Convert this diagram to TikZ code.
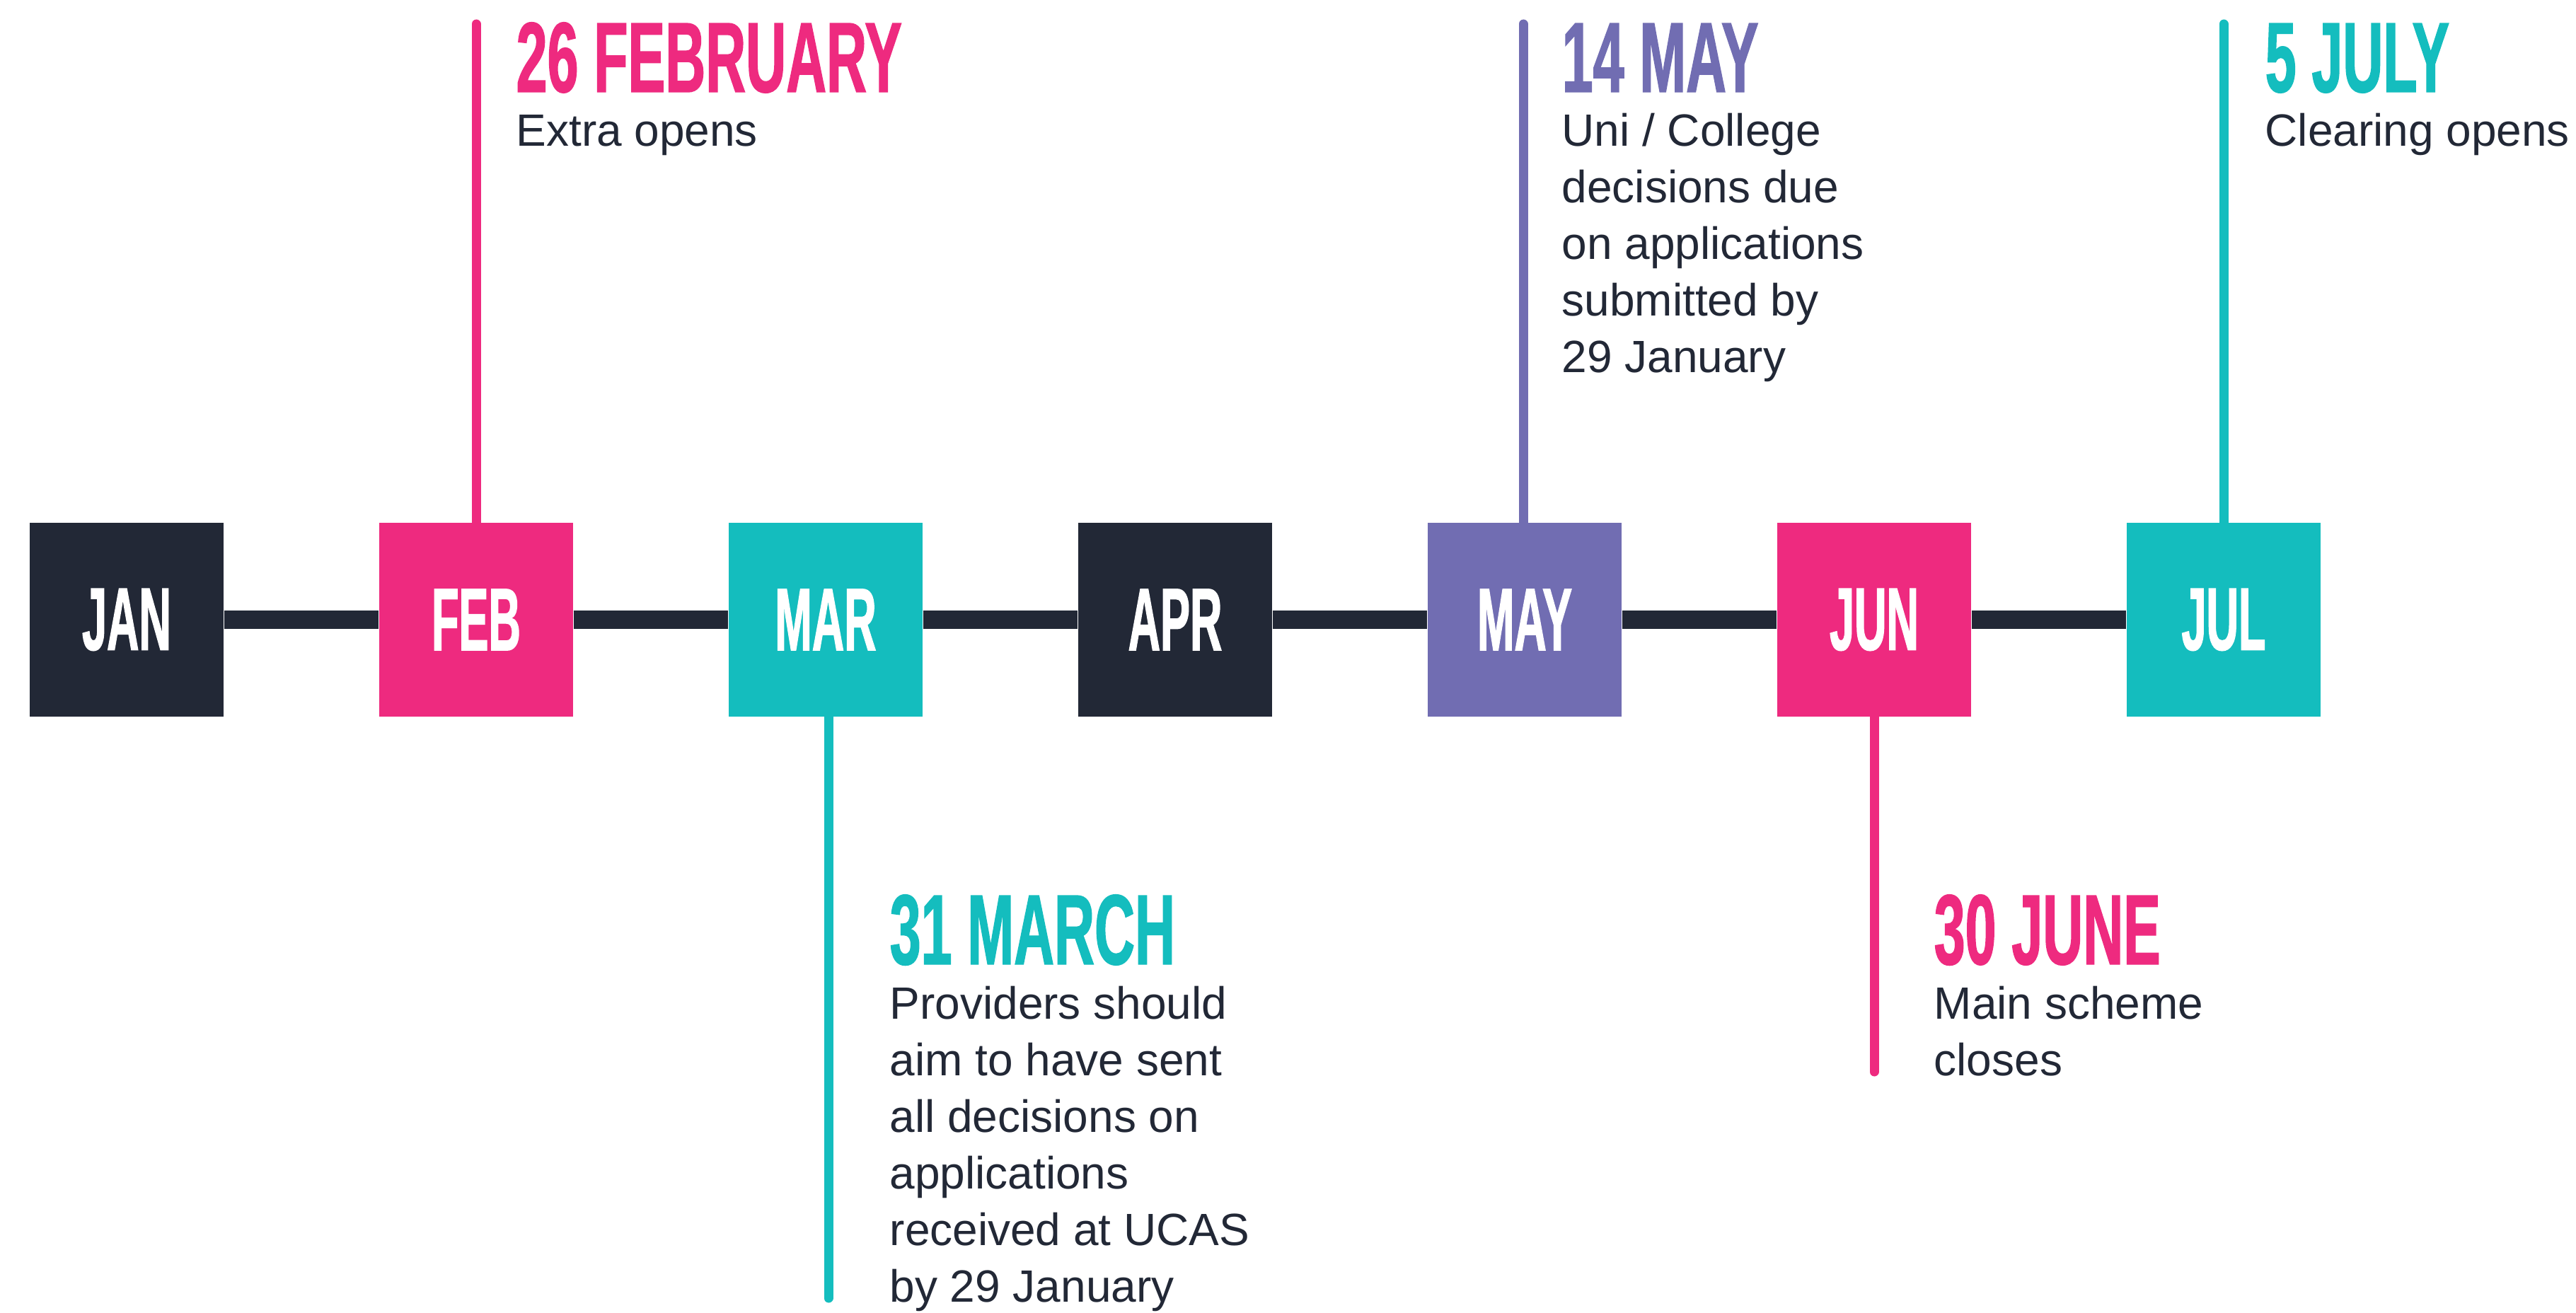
\documentclass[tikz,border=0pt]{standalone}
\usepackage{fontspec}
\setmainfont{Liberation Sans}
\newfontfamily\headfont[FakeStretch=0.56,FakeBold=1.0]{Liberation Sans}
\newfontfamily\monthfont[FakeStretch=0.50,FakeBold=1.0]{Liberation Sans}
\definecolor{ucasnavy}{HTML}{222836}
\definecolor{ucaspink}{HTML}{EE2A7F}
\definecolor{ucasteal}{HTML}{14BDBE}
\definecolor{ucaspurple}{HTML}{716DB2}

\begin{document}
\begin{tikzpicture}[
  line cap=round,
  month/.style={rectangle, minimum size=2.74cm, inner sep=0pt, text=white,
    font=\monthfont\bfseries\fontsize{35.8pt}{36pt}\selectfont},
  timeline/.style={draw=ucasnavy, line width=0.26cm, line cap=butt},
  stem/.style={line width=0.13cm, line cap=round},
  head/.style={anchor=base west, inner sep=0pt,
    font=\headfont\bfseries\fontsize{40.1pt}{40pt}\selectfont},
  body/.style={anchor=base west, inner sep=0pt, text=ucasnavy,
    font=\fontsize{18.2pt}{22.8pt}\selectfont}
]
\useasboundingbox[fill=white] (0,0) rectangle (36.41,18.55);

% month boxes
\node[month, fill=ucasnavy] (jan) at (1.79,9.79) {JAN};
\node[month, fill=ucaspink] (feb) at (6.73,9.79) {FEB};
\node[month, fill=ucasteal] (mar) at (11.67,9.79) {MAR};
\node[month, fill=ucasnavy] (apr) at (16.61,9.79) {APR};
\node[month, fill=ucaspurple] (may) at (21.55,9.79) {MAY};
\node[month, fill=ucaspink] (jun) at (26.49,9.79) {JUN};
\node[month, fill=ucasteal] (jul) at (31.43,9.79) {JUL};

\draw[timeline] (jan) -- (feb);
\draw[timeline] (feb) -- (mar);
\draw[timeline] (mar) -- (apr);
\draw[timeline] (apr) -- (may);
\draw[timeline] (may) -- (jun);
\draw[timeline] (jun) -- (jul);

% stems
\coordinate (feb-top) at (6.73,18.21);
\coordinate (mar-end) at (11.71,0.20);
\coordinate (may-top) at (21.53,18.21);
\coordinate (jun-end) at (26.49,3.40);
\coordinate (jul-top) at (31.43,18.21);
\draw[stem, ucaspink] (feb) -- (feb-top);
\draw[stem, ucasteal] (mar-end |- mar.south) -- (mar-end);
\draw[stem, ucaspurple] (may-top |- may.north) -- (may-top);
\draw[stem, ucaspink] (jun) -- (jun-end);
\draw[stem, ucasteal] (jul) -- (jul-top);

% dates above
\node[head, text=ucaspink] (feb-head) at (7.29,17.25) {26 FEBRUARY};
  \node[body] (feb-l0) at (7.29,16.48) {Extra opens};
\node[head, text=ucaspurple] (may-head) at (22.07,17.25) {14 MAY};
  \foreach \txt [count=\i from 0] in {{Uni / College}, decisions due, on applications, submitted by, 29 January}
    \node[body] (may-l\i) at (22.07,{16.48-0.8*\i}) {\txt};
\node[head, text=ucasteal] (jul-head) at (32.01,17.25) {5 JULY};
  \node[body] (jul-l0) at (32.01,16.48) {Clearing opens};

% dates below
\node[head, text=ucasteal] (mar-head) at (12.57,4.92) {31 MARCH};
  \foreach \txt [count=\i from 0] in {Providers should, aim to have sent, all decisions on, applications, received at UCAS, by 29 January}
    \node[body] (mar-l\i) at (12.57,{4.15-0.8*\i}) {\txt};
\node[head, text=ucaspink] (jun-head) at (27.33,4.92) {30 JUNE};
  \node[body] (jun-l0) at (27.33,4.15) {Main scheme};
  \node[body] (jun-l1) at (27.33,3.35) {closes};
\end{tikzpicture}
\end{document}
